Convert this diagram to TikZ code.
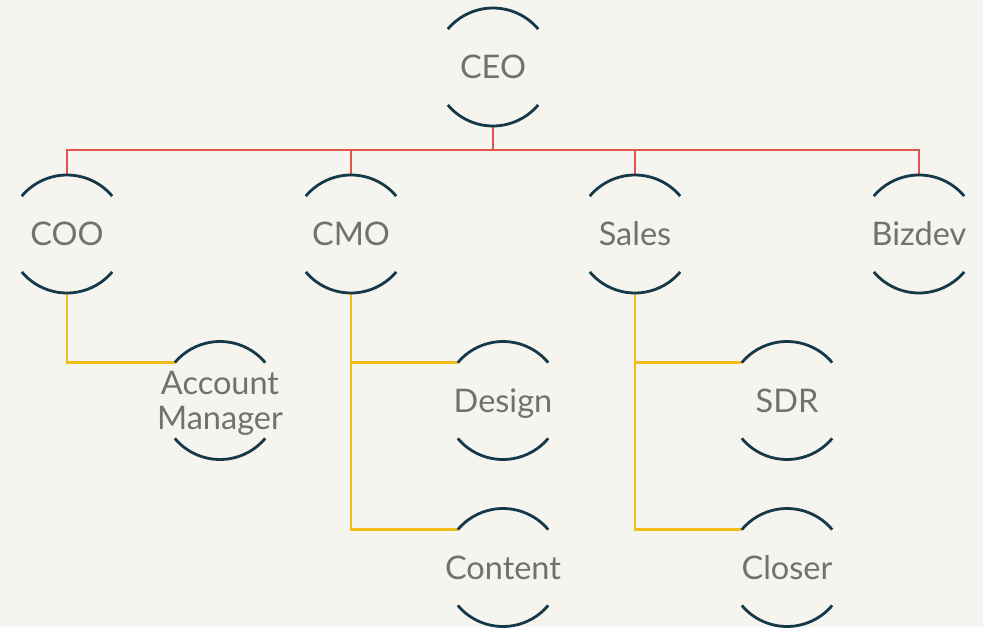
\documentclass[tikz,border=0pt]{standalone}
\usepackage{fontspec}
\setmainfont{Lato}
\definecolor{paper}{HTML}{F5F4EE}
\definecolor{ring}{HTML}{16394A}
\definecolor{boss}{HTML}{E0554A}
\definecolor{team}{HTML}{F2BC1B}
\definecolor{ink}{HTML}{717171}
\begin{document}
\begin{tikzpicture}[x=1pt, y=1pt,
            caption/.style={inner sep=0pt, font=\fontsize{32.5}{35}\selectfont, text=ink,
                text height=23pt, text depth=0pt},
            role/.style={circle, minimum size=118pt, inner sep=0pt, outer sep=0pt, caption},
            bossline/.style={draw=boss, line width=2.9pt},
            teamline/.style={draw=team, line width=2.9pt}
        ]
            \useasboundingbox[fill=paper] (0,0) rectangle (983,-627);

            \node[role] (ceo) at (493, -67) {CEO};
            \node[role] (coo) at (67, -234) {COO};
            \node[role] (cmo) at (351, -234) {CMO};
            \node[role] (sales) at (635, -234) {Sales};
            \node[role] (bizdev) at (919, -234) {Bizdev};
            \node[role] (acct) at (220, -400.5) {};
            \node[caption, align=center, text height=58pt] (acct text) at (acct) {Account\\Manager};
            \node[role] (design) at (503, -400.5) {Design};
            \node[role] (content) at (503, -567.5) {Content};
            \node[role] (sdr) at (787, -400.5) {SDR};
            \node[role] (closer) at (787, -567.5) {Closer};

            % red bus under the CEO
            \coordinate (bus) at (493, -150);
            \draw[bossline] (ceo.south) -- (bus);
            \draw[bossline] (bus) -| (coo.north) (bus) -| (cmo.north);
            \draw[bossline] (bus) -| (sales.north) (bus) -| (bizdev.north);

            % yellow branches
            \draw[teamline] (coo.south) |- (acct.140);
            \draw[teamline] (cmo.south) |- (design.140) (cmo.south) |- (content.140);
            \draw[teamline] (sales.south) |- (sdr.140) (sales.south) |- (closer.140);

            % top and bottom arcs of every circle
            \foreach \n in {ceo, coo, cmo, sales, bizdev, acct, design, content, sdr, closer} {
                \draw[ring, line width=2.8pt] (\n.40) arc[start angle=40, end angle=140, radius=59];
                \draw[ring, line width=2.8pt] (\n.220) arc[start angle=220, end angle=320, radius=59];
            }
        \end{tikzpicture}
\end{document}
